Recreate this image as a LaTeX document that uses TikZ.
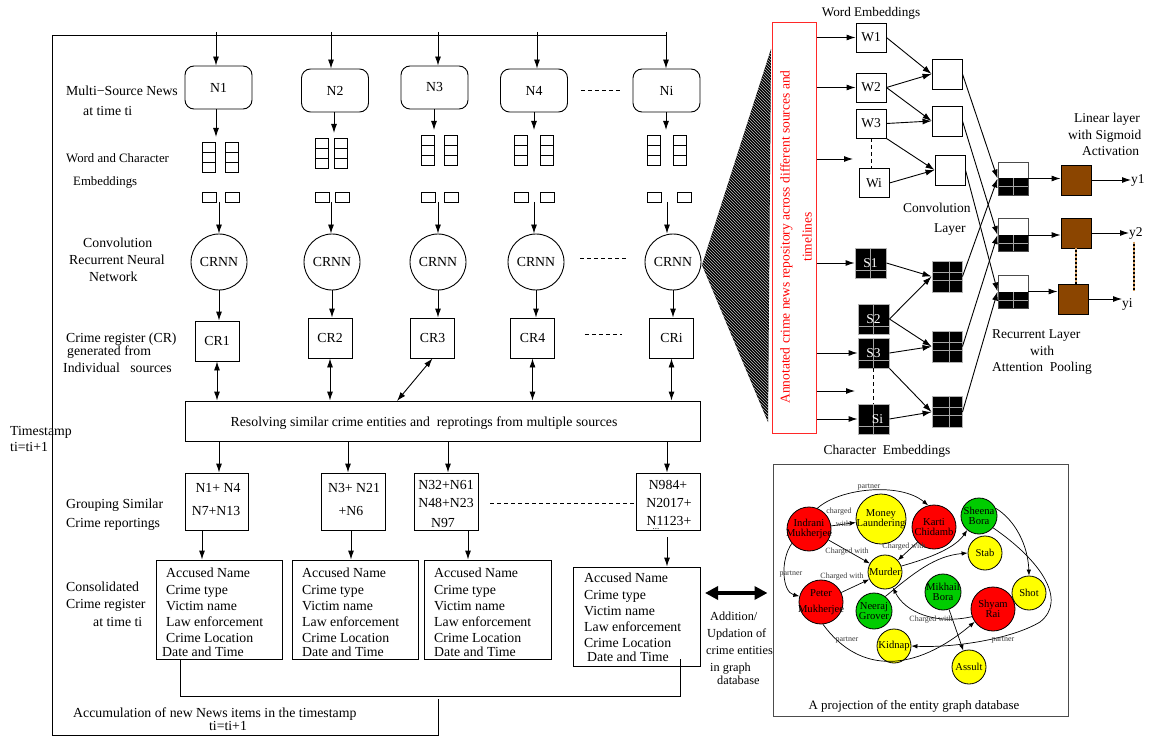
\documentclass[tikz,border=0pt]{standalone}
\usepackage{fontspec}
\setmainfont{Liberation Serif}
\usetikzlibrary{arrows.meta,patterns,calc}

\definecolor{linbrown}{RGB}{139,69,0}
\definecolor{dashtan}{RGB}{214,160,100}
\definecolor{repored}{RGB}{255,40,40}
\definecolor{gred}{RGB}{255,0,0}
\definecolor{gyel}{RGB}{255,255,0}
\definecolor{ggrn}{RGB}{0,204,0}
\definecolor{lblgray}{RGB}{60,60,60}

\newcommand{\fsz}[1]{\fontsize{#1}{#1}\selectfont}

\begin{document}
\begin{tikzpicture}[x=1pt,y=-1pt,
  every node/.style={inner sep=0pt},
  lt/.style={anchor=base west, font=\fsz{13.8}},
  ct/.style={anchor=base, font=\fsz{13.8}},
  box/.style={draw, line width=0.9pt},
  newsbox/.style={box, rounded corners=9pt, minimum width=67pt, minimum height=43pt, font=\fsz{13.8}},
  crbox/.style={box, minimum width=44pt, minimum height=40pt, font=\fsz{13.8}},
  crnn/.style={box, circle, minimum size=56pt, font=\fsz{13.8}},
  cell/.style={line width=0.9pt},
  arr/.style={line width=0.9pt, -{Latex[length=9pt,width=6pt]}},
  darr/.style={line width=0.9pt, {Latex[length=9pt,width=6pt]}-{Latex[length=9pt,width=6pt]}},
  gapline/.style={line width=0.9pt, dash pattern=on 4pt off 3pt},
  regtext/.style={anchor=north west, align=left, font=\fontsize{13.8}{16.3}\selectfont},
  wbox/.style={box, fill=white, minimum width=30pt, minimum height=29pt, font=\fsz{13.5}},
  charbox/.style={box, draw=gray!60, fill=black, minimum width=31pt, minimum height=30pt, text=white, font=\fsz{13.5},
    path picture={
      \draw[gray!70, line width=0.5pt] (path picture bounding box.north) -- (path picture bounding box.south);
      \draw[gray!70, line width=0.5pt] ($(path picture bounding box.south west)!0.27!(path picture bounding box.north west)$) -- ($(path picture bounding box.south east)!0.27!(path picture bounding box.north east)$);}},
  kbox/.style={box, draw=gray!60, fill=black, minimum width=30pt, minimum height=31pt,
    path picture={
      \draw[gray!70, line width=0.5pt] ($(path picture bounding box.north west)!0.57!(path picture bounding box.north east)$) -- ($(path picture bounding box.south west)!0.57!(path picture bounding box.south east)$);
      \draw[gray!70, line width=0.5pt] ($(path picture bounding box.north west)!0.35!(path picture bounding box.south west)$) -- ($(path picture bounding box.north east)!0.35!(path picture bounding box.south east)$);
      \draw[gray!70, line width=0.5pt] ($(path picture bounding box.north west)!0.62!(path picture bounding box.south west)$) -- ($(path picture bounding box.north east)!0.62!(path picture bounding box.south east)$);}},
  rbox/.style={box, draw=gray!60!black, fill=white, minimum width=30pt, minimum height=33pt,
    path picture={
      \fill[black] (path picture bounding box.west) rectangle (path picture bounding box.south east);
      \draw[gray!70, line width=0.5pt] (path picture bounding box.center) -- (path picture bounding box.south);
      \draw[gray!70, line width=0.5pt] ($(path picture bounding box.south west)!0.25!(path picture bounding box.north west)$) -- ($(path picture bounding box.south east)!0.25!(path picture bounding box.north east)$);}},
  bbox/.style={box, fill=linbrown, minimum width=30pt, minimum height=30pt},
  bdash/.style={line width=1.2pt, draw=black, postaction={draw=dashtan, line width=1.2pt, dash pattern=on 2pt off 2pt}},
  gnode/.style={circle, draw, line width=0.8pt},
  gtxt/.style={align=center, font=\fontsize{10.6}{10.5}\selectfont},
  elab/.style={font=\fsz{8}, text=lblgray},
  garr/.style={line width=0.7pt, -{Latex[length=6pt,width=4.5pt]}},
  bigarr/.style={line width=4pt, {Triangle[length=13pt,width=13pt]}-{Triangle[length=13pt,width=13pt]}}
]
\path[fill=white] (0,0) rectangle (1149,738);

% ---------- outer frame of the timestamp loop ----------
\draw[line width=0.9pt] (666,35) -- (52,35) -- (52,735) -- (438,735) -- (438,699);

% ---------- one processing column per news source ----------
\foreach \i/\tx/\nx/\ny/\gx/\gl/\gr/\gt/\sl/\sr/\sx/\cx/\crx/\cry in {
  1/216/218.5/87.5/216/202/225/142/202/225/219/219/217/341,
  2/331/335/90.5/334/315/334/138/315/335/331/332/330/338,
  3/438/434.5/87.5/434/421/444/135/421/444/438/438/432.5/338,
  4/537/534/90.5/534/514/540/135/514/540/534/536/532.5/338,
  i/666/666.5/90.5/666/647/673/135/647/677/667/673/671.5/338}{
  \coordinate (top\i) at (\tx,32);
  \node[newsbox] (n\i) at (\nx,\ny) {N\i};
  \draw[arr] (top\i) -- (top\i |- n\i.north);
  \foreach \c in {\gl,\gr}{
    \draw[cell] (\c,\gt) rectangle ++(13.5,30);
    \draw[cell] (\c,\gt+10) -- ++(13.5,0);
    \draw[cell] (\c,\gt+20) -- ++(13.5,0);
  }
  \coordinate (gin\i) at (\gx,\gt-5);
  \draw[arr] (n\i.south -| gin\i) -- (gin\i);
  \draw[cell] (\sl,192) rectangle ++(14,10);
  \draw[cell] (\sr,192) rectangle ++(14,10);
  \coordinate (sout\i) at (\sx,202);
  \node[crnn] (rn\i) at (\cx,262) {CRNN};
  \draw[arr] (sout\i) -- (sout\i |- rn\i.north);
  \node[crbox] (cr\i) at (\crx,\cry) {CR\i};
  \draw[arr] (rn\i.south) -- (rn\i.south |- cr\i.north);
}

\draw[gapline] ([xshift=13pt]n4.east) -- ([xshift=-13pt]ni.west);
\draw[gapline] ([xshift=16pt,yshift=4pt]rn4.east) -- ([xshift=-16pt,yshift=4pt]rni.west);
\draw[gapline] ([xshift=30pt,yshift=4pt]cr4.east) -- ([xshift=-27pt,yshift=4pt]cri.west);

% ---------- entity resolution ----------
\node[box, minimum width=515pt, minimum height=40pt] (res) at (442.5,421) {};
\node[ct] (restxt) at (424,426) {Resolving similar crime entities and\ \ reprotings from multiple sources};

\draw[darr] (cr1.south) -- (cr1.south |- res.north);
\draw[darr] (cr2.south) -- (cr2.south |- res.north);
\coordinate (r3) at (397,401);
\draw[darr] (cr3.south) -- (r3);
\draw[darr] (cr4.south) -- (cr4.south |- res.north);
\draw[darr] (cri.south) -- (cri.south |- res.north);

% ---------- grouping of similar reports ----------
\node[box, minimum width=63pt, minimum height=57pt] (g1) at (216.5,501.5) {};
\node[box, minimum width=64pt, minimum height=57pt] (g2) at (353,501.5) {};
\node[box, minimum width=64pt, minimum height=57pt] (g3) at (446,501.5) {};
\node[box, minimum width=64pt, minimum height=57pt] (g4) at (668,501.5) {};

\node[ct] (g1a) at (218,492) {N1+ N4};
\node[ct] (g1b) at (216,515) {N7+N13};
\node[ct] (g2a) at (354,492) {N3+ N21};
\node[ct] (g2b) at (351,515) {+N6};
\node[ct] (g3a) at (446,489) {N32+N61};
\node[ct] (g3b) at (446,507) {N48+N23};
\node[ct] (g3c) at (443,527) {N97};
\node[ct] (g4a) at (668,489) {N984+};
\node[ct] (g4b) at (669,507) {N2017+};
\node[ct] (g4c) at (669,525) {N1123+\llap{\raisebox{-4pt}{\fsz{9}...}\hspace*{32pt}}};

\coordinate (gdash) at (490,503);
\draw[gapline] (gdash) -- (gdash -| g4.west);

\coordinate (ax1) at (219,0);
\coordinate (ax2) at (348,0);
\coordinate (ax3) at (448,0);
\coordinate (ax4) at (667,0);
\draw[arr] (res.south -| ax1) -- (ax1 |- g1.north);
\draw[arr] (res.south -| ax2) -- (ax2 |- g2.north);
\draw[arr] (res.south -| ax3) -- (ax3 |- g3.north);
\draw[arr] (res.south -| ax4) -- (ax4 |- g4.north);

% ---------- consolidated crime registers ----------
\node[box, minimum width=126pt, minimum height=99pt] (cons1) at (219,609.5) {};
\node[box, minimum width=126pt, minimum height=99pt] (cons2) at (355,609.5) {};
\node[box, minimum width=127pt, minimum height=99pt] (cons3) at (487.5,609.5) {};
\node[box, minimum width=127pt, minimum height=99pt] (cons4) at (636.5,616.5) {};

\node[regtext] (reg1) at (166,568) {Accused Name\\Crime type\\Victim name\\Law enforcement\\Crime Location\\[-3pt]\hspace*{-4pt}Date and Time};
\node[regtext] (reg2) at (302,568) {Accused Name\\Crime type\\Victim name\\Law enforcement\\Crime Location\\[-3pt]Date and Time};
\node[regtext] (reg3) at (434,568) {Accused Name\\Crime type\\Victim name\\Law enforcement\\Crime Location\\[-3pt]Date and Time};
\node[regtext] (reg4) at (584,573) {Accused Name\\Crime type\\Victim name\\Law enforcement\\Crime Location\\[-3pt]\hspace*{3pt}Date and Time};

\coordinate (bx1) at (202,0);
\coordinate (bx2) at (351,0);
\coordinate (bx3) at (468,0);
\coordinate (bx4) at (667,537);
\draw[arr] (g1.south -| bx1) -- (bx1 |- cons1.north);
\draw[arr] (g2.south -| bx2) -- (bx2 |- cons2.north);
\draw[arr] (g3.south -| bx3) -- (bx3 |- cons3.north);
\draw[arr] (bx4) -- (bx4 |- cons4.north);

% accumulation feedback line
\coordinate (accL) at (180,696);
\coordinate (accR) at (680,696);
\coordinate (accE) at (680,659);
\draw[line width=0.9pt] (accL |- cons1.south) -- (accL) -- (accR) -- (accE);

% ---------- left captions ----------
\node[lt] (capA1) at (66,96) {Multi−Source News};
\node[lt] (capA2) at (83,116) {at time ti};
\node[lt, font=\fsz{12.8}] (capB1) at (66,163) {Word and Character};
\node[lt, font=\fsz{12.8}] (capB2) at (73,186) {Embeddings};
\node[lt] (capC1) at (83,248) {Convolution};
\node[lt] (capC2) at (69,265) {Recurrent Neural};
\node[lt] (capC3) at (89,282) {Network};
\node[lt] (capD1) at (66,342) {Crime register (CR)};
\node[lt] (capD2) at (67,355) {generated from};
\node[lt] (capD3) at (63,372) {Individual\ \ \ sources};
\node[lt] (capE1) at (10,435) {Timestamp};
\node[lt] (capE2) at (10,451) {ti=ti+1};
\node[lt] (capF1) at (66,508) {Grouping Similar};
\node[lt] (capF2) at (66,527) {Crime reportings};
\node[lt] (capG1) at (66,591) {Consolidated};
\node[lt] (capG2) at (66,608) {Crime register};
\node[lt] (capG3) at (93,626) {at time ti};
\node[lt] (capH1) at (73,717) {Accumulation of new News items in the timestamp};
\node[ct] (capH2) at (228,730) {ti=ti+1};

% ---------- annotated repository ----------
\fill[black] (702,265) -- (771,49) -- (768,422) -- cycle;
\fill[pattern=north west lines, pattern color=white!75!black] (702,265) -- (771,49) -- (768,422) -- cycle;
\node[draw=repored, fill=white, line width=1pt, minimum width=44pt, minimum height=410pt] (repo) at (794,228) {};
\node[rotate=90, text=red, align=center, font=\fontsize{13.5}{22}\selectfont] (repotxt) at (796,237) {Annotated crime news repository across different sources and\\timelines};

% ---------- word embeddings and convolution ----------
\node[ct, font=\fsz{13.2}] (wembcap) at (871,17) {Word Embeddings};
\node[wbox] (w1) at (871,37.5) {W1};
\node[wbox] (w2) at (871,87.5) {W2};
\node[wbox] (w3) at (871,123.5) {W3};
\node[wbox] (wi) at (874,183) {Wi};
\draw[gapline, line width=0.7pt] (w3.south) -- (w3.south |- wi.north);

\coordinate (free1) at (853,159);
\coordinate (free2) at (855,391);
\draw[arr] (repo.east |- w1.west) -- (w1.west);
\draw[arr] (repo.east |- w2.west) -- (w2.west);
\draw[arr] (repo.east |- free1) -- (free1);

\node[wbox, minimum height=30pt] (c1) at (947,74) {};
\node[wbox, minimum height=30pt] (c2) at (947,121) {};
\node[wbox, minimum height=30pt] (c3) at (950,170) {};
\draw[arr] (w1.east) -- (c1.west);
\draw[arr] (w2.east) -- (c1.west);
\draw[arr] (w2.east) -- (c2.west);
\draw[arr] (w3.east) -- (c2.west);
\draw[arr] (w3.south east) -- (c3.west);
\draw[arr] (wi.east) -- (c3.west);

\node[lt, font=\fsz{13.5}] (convcap1) at (903,213) {Convolution};
\node[lt, font=\fsz{13.5}] (convcap2) at (934,233) {Layer};

% ---------- character embeddings and convolution ----------
\node[charbox] (s1) at (870.5,263) {S1};
\node[charbox] (s2) at (873.5,319) {S2};
\node[charbox] (s3) at (873.5,353) {S3};
\node[charbox] (si) at (873.5,419) {\raisebox{-8pt}{\hspace*{8pt}Si}};
\draw[gapline, line width=0.7pt] (s3.south) -- (si.north);
\draw[arr] (repo.east |- s1.west) -- (s1.west);
\draw[arr] (repo.east |- s3.west) -- (s3.west);
\draw[arr] (repo.east |- free2) -- (free2);
\draw[arr] (repo.east |- si.west) -- (si.west);

\node[kbox] (k1) at (947,276.5) {};
\node[kbox] (k2) at (947,346.5) {};
\node[kbox] (k3) at (947,412) {};
\draw[arr] (s1.east) -- (k1.west);
\draw[arr] (s2.east) -- (k1.west);
\draw[arr] (s2.east) -- (k2.west);
\draw[arr] (s3.east) -- (k2.west);
\draw[arr] (s3.south east) -- (k3.west);
\draw[arr] (si.east) -- (k3.west);

\node[ct, font=\fsz{13.5}] (charcap) at (887,454) {Character\ \ Embeddings};

% ---------- recurrent layer with attention pooling ----------
\node[rbox] (r1) at (1013,178.5) {};
\node[rbox] (r2) at (1013,235) {};
\node[rbox] (r3) at (1013,291.5) {};
\draw[arr] (c1.east) -- (r1.west);
\draw[arr] (k1.east) -- (r1.west);
\draw[arr] (c2.east) -- (r2.west);
\draw[arr] (k2.east) -- (r2.west);
\draw[arr] (c3.east) -- (r3.west);
\draw[arr] (k3.east) -- (r3.west);

\node[lt, font=\fsz{13.5}] (reccap1) at (992,338) {Recurrent Layer};
\node[lt, font=\fsz{13.5}] (reccap2) at (1030,355) {with};
\node[lt, font=\fsz{13.5}] (reccap3) at (992,371) {Attention\ \ Pooling};

% ---------- linear layer with sigmoid ----------
\node[bbox] (b1) at (1076,180) {};
\node[bbox] (b2) at (1076,233) {};
\node[bbox] (b3) at (1073,299) {};
\draw[arr] (r1.east) -- (r1.east -| b1.west);
\draw[arr] (r2.east) -- (r2.east -| b2.west);
\draw[arr] (r3.east) -- (r3.east -| b3.west);
\draw[bdash] (b2.south) -- (b2.south |- b3.north);

\node[lt, font=\fsz{13.5}] (out1) at (1131,184) {y1};
\node[lt, font=\fsz{13.5}] (out2) at (1129,237) {y2};
\node[lt, font=\fsz{13.5}] (outi) at (1122,307) {yi};
\draw[arr] (b1.east) -- (b1.east -| out1.west);
\draw[arr] (b2.east) -- (b2.east -| out2.west);
\draw[arr] (b3.east) -- (b3.east -| outi.west);
\coordinate (yd1) at (1134,242);
\coordinate (yd2) at (1134,291);
\draw[bdash] (yd1) -- (yd2);

\node[lt, font=\fsz{13.5}] (lincap1) at (1074,123) {Linear layer};
\node[lt, font=\fsz{13.5}] (lincap2) at (1068,140) {with Sigmoid};
\node[lt, font=\fsz{13.5}] (lincap3) at (1082,156) {Activation};

% ---------- entity graph database ----------
\node[draw=gray!60!black, line width=1pt, minimum width=295pt, minimum height=252pt] (panel) at (920.5,590) {};
\node[ct, font=\fsz{12.9}] (panelcap) at (914,709) {A projection of the entity graph database};

\coordinate (dal) at (705,593);
\draw[bigarr] (dal) -- ([xshift=-5pt]dal -| panel.west);

\node[lt, font=\fsz{12.3}] (addcap1) at (710,620) {Addition/};
\node[lt, font=\fsz{12.3}] (addcap2) at (707,637) {Updation of};
\node[lt, font=\fsz{12.3}] (addcap3) at (706,654) {crime entities};
\node[lt, font=\fsz{12.3}] (addcap4) at (710,671) {in graph};
\node[lt, font=\fsz{12.3}] (addcap5) at (717,684) {database};

\node[gnode, fill=gred, minimum size=44pt] (ind) at (809,529) {};
\node[gnode, fill=gyel, minimum size=50pt] (mon) at (881,519) {};
\node[gnode, fill=gred, minimum size=44pt] (kar) at (934,527) {};
\node[gnode, fill=ggrn, minimum size=36pt] (she) at (979,516) {};
\node[gnode, fill=gyel, minimum size=34pt] (sta) at (985,553) {};
\node[gnode, fill=gyel, minimum size=34pt] (mur) at (885,572) {};
\node[gnode, fill=gred, minimum size=44pt] (pet) at (821,602) {};
\node[gnode, fill=ggrn, minimum size=36pt] (nee) at (874,611) {};
\node[gnode, fill=ggrn, minimum size=36pt] (mik) at (943,592) {};
\node[gnode, fill=gyel, minimum size=34pt] (sho) at (1029,593) {};
\node[gnode, fill=gred, minimum size=44pt] (shy) at (993,609) {};
\node[gnode, fill=gyel, minimum size=34pt] (kid) at (894,646) {};
\node[gnode, fill=gyel, minimum size=34pt] (ass) at (969,667) {};

\draw[garr] (ind) -- (mon);
\draw[garr] (ind.68) .. controls (840,488) and (900,482) .. (kar.105);
\draw[garr] (ind) -- (mur);
\draw[garr] (kar) -- (mur);
\draw[garr] (ind.220) .. controls (780,560) and (782,592) .. (pet.165);
\draw[garr] (pet) -- (mur);
\draw[garr] (mur.20) .. controls (930,558) and (955,548) .. (she.230);
\draw[garr] (nee.52) .. controls (915,572) and (935,556) .. (sta.west);
\draw[garr] (shy.200) .. controls (935,625) and (905,612) .. (mur.297);
\draw[garr] (mik) -- (ass);
\draw[garr] (she.25) .. controls (1015,520) and (1028,545) .. (sho.north);
\coordinate (bend) at (1040,622);
\draw[garr] (she.-40) .. controls (1040,560) and (1068,600) .. (bend) .. controls (1010,640) and (950,648) .. (kid.east);
\draw[garr] (pet.-85) .. controls (860,675) and (915,672) .. (shy.215);

\node[gtxt] (indT) at (ind) {Indrani\\Mukherjee};
\node[gtxt] (monT) at (mon) {Money\\Laundering};
\node[gtxt] (karT) at (kar) {Karti\\Chidamb};
\node[gtxt] (sheT) at (she) {Sheena\\Bora};
\node[gtxt] (staT) at (sta) {Stab};
\node[gtxt] (murT) at (mur) {Murder};
\node[gtxt] (petT) at (pet) {Peter\\[6pt]Mukherjee};
\node[gtxt] (neeT) at (nee) {Neeraj\\Grover};
\node[gtxt] (mikT) at (mik) {Mikhail\\Bora};
\node[gtxt] (shoT) at (sho) {Shot};
\node[gtxt] (shyT) at (shy) {Shyam\\Rai};
\node[gtxt] (kidT) at (kid) {Kidnap};
\node[gtxt] (assT) at (ass) {Assult};

\node[elab] (e1) at (869,487) {partner};
\node[elab] (e2) at (839,512) {charged};
\node[elab] (e3) at (843,524) {with};
\node[elab] (e4) at (847,552) {Charged with};
\node[elab] (e5) at (904,547) {Charged with};
\node[elab] (e6) at (791,574) {partner};
\node[elab] (e7) at (842,577) {Charged with};
\node[elab] (e8) at (931,620) {Charged with};
\node[elab] (e9) at (847,640) {partner};
\node[elab] (e10) at (1003,640) {partner};
\end{tikzpicture}
\end{document}
